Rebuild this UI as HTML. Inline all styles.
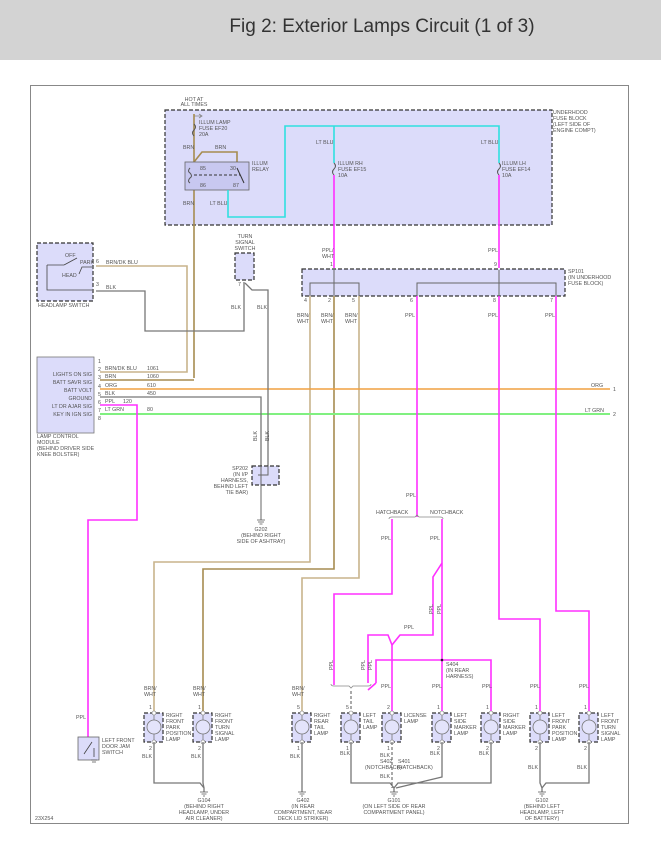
<!DOCTYPE html>
<html><head><meta charset="utf-8"><style>
html,body{margin:0;padding:0;background:#fff;width:661px;height:846px;overflow:hidden}
svg{display:block}
text{font-family:"Liberation Sans",sans-serif;font-size:5.3px;fill:#555}
.t{font-size:19px;fill:#333}
.d{fill:none;stroke:#333;stroke-width:1.2;stroke-dasharray:4,2}
.box{fill:#dcdcfa}
.tan{stroke:#c8b48c;stroke-width:1.6;fill:none}
.brn{stroke:#a68c50;stroke-width:1.6;fill:none}
.mag{stroke:#ff30ff;stroke-width:1.6;fill:none}
.cy{stroke:#30e0e0;stroke-width:1.6;fill:none}
.blk{stroke:#777;stroke-width:1.3;fill:none}
.org{stroke:#f0a040;stroke-width:1.6;fill:none}
.grn{stroke:#80f080;stroke-width:2;fill:none}
.g{stroke:#888;stroke-width:0.8;fill:none}
</style></head><body>
<svg width="661" height="846" viewBox="0 0 661 846">
<rect x="0" y="0" width="661" height="60" fill="#d3d3d3"/>
<text class="t" x="382" y="32" text-anchor="middle">Fig 2: Exterior Lamps Circuit (1 of 3)</text>
<rect x="30.5" y="85.5" width="598" height="738" fill="none" stroke="#888" stroke-width="1"/>

<!-- underhood fuse block -->
<rect x="165" y="110" width="387" height="115" class="box"/>
<rect x="165" y="110" width="387" height="115" class="d"/>
<text x="553" y="114">UNDERHOOD</text><text x="553" y="120">FUSE BLOCK</text><text x="553" y="126">(LEFT SIDE OF</text><text x="553" y="132">ENGINE COMPT)</text>
<text x="194" y="101" text-anchor="middle">HOT AT</text><text x="194" y="106" text-anchor="middle">ALL TIMES</text>
<path d="M194 116 H202 M199 114 L202 116 L199 118" class="g" stroke="#333"/>
<line x1="194" y1="114" x2="194" y2="378" class="brn"/>
<path d="M194 124 q3 3 0 6 q-3 3 0 6" fill="none" stroke="#555" stroke-width="1"/>
<text x="199" y="124">ILLUM LAMP</text><text x="199" y="130">FUSE EF20</text><text x="199" y="136">20A</text>
<text x="183" y="149">BRN</text><text x="215" y="149">BRN</text>
<path d="M194 162 L202 152 H237 V162" class="brn"/>
<rect x="185" y="162" width="64" height="28" fill="#c8c8f0" stroke="#666" stroke-width="0.8"/>
<path d="M190 168 q-3 3 0 5 q3 3 0 5 q-3 3 0 5" fill="none" stroke="#555"/>
<line x1="194" y1="175" x2="240" y2="175" stroke="#333" stroke-dasharray="3,2" stroke-width="1"/>
<line x1="237" y1="168" x2="244" y2="183" stroke="#333" stroke-width="1"/>
<text x="200" y="170">85</text><text x="230" y="170">30</text><text x="200" y="187">86</text><text x="233" y="187">87</text>
<text x="252" y="165">ILLUM</text><text x="252" y="171">RELAY</text>
<text x="183" y="205">BRN</text><text x="210" y="205">LT BLU</text>
<path d="M228 190 V217 H285 V126 H499 V163" class="cy"/>
<line x1="334" y1="126" x2="334" y2="163" class="cy"/>
<text x="316" y="144">LT BLU</text><text x="481" y="144">LT BLU</text>
<path d="M334 163 q3 3 0 6 q-3 3 0 6" fill="none" stroke="#555" stroke-width="1"/>
<path d="M499 163 q3 3 0 6 q-3 3 0 6" fill="none" stroke="#555" stroke-width="1"/>
<text x="338" y="165">ILLUM RH</text><text x="338" y="171">FUSE EF15</text><text x="338" y="177">10A</text>
<text x="502" y="165">ILLUM LH</text><text x="502" y="171">FUSE EF14</text><text x="502" y="177">10A</text>
<line x1="334" y1="175" x2="334" y2="268" class="mag"/>
<line x1="499" y1="175" x2="499" y2="268" class="mag"/>
<text x="322" y="252">PPL/</text><text x="322" y="258">WHT</text><text x="488" y="252">PPL</text>
<text x="330" y="266">1</text><text x="494" y="266">9</text>

<!-- SP101 -->
<rect x="302" y="269" width="263" height="27" class="box"/>
<rect x="302" y="269" width="263" height="27" class="d"/>
<path d="M310 296 V283 H359 V296 M334 270 V296 M417 296 V283 H556 V296 M499 270 V296" fill="none" stroke="#666" stroke-width="1"/>
<text x="568" y="273">SP101</text><text x="568" y="279">(IN UNDERHOOD</text><text x="568" y="285">FUSE BLOCK)</text>
<text x="304" y="302">4</text><text x="328" y="302">2</text><text x="352" y="302">5</text><text x="410" y="302">6</text><text x="493" y="302">8</text><text x="550" y="302">7</text>
<text x="297" y="317">BRN/</text><text x="297" y="323">WHT</text>
<text x="321" y="317">BRN/</text><text x="321" y="323">WHT</text>
<text x="345" y="317">BRN/</text><text x="345" y="323">WHT</text>
<text x="405" y="317">PPL</text><text x="488" y="317">PPL</text><text x="545" y="317">PPL</text>
<path d="M310 296 V562 H154 V713" class="tan"/>
<path d="M334 296 V569 H203 V713" class="brn"/>
<path d="M359 296 V578 H302 V713" class="tan"/>

<!-- horizontal bus -->
<line x1="100" y1="389" x2="610" y2="389" class="org"/>
<line x1="100" y1="414" x2="610" y2="414" class="grn"/>
<text x="591" y="387">ORG</text><text x="613" y="391">1</text>
<text x="585" y="412">LT GRN</text><text x="613" y="416">2</text>

<!-- headlamp switch -->
<rect x="37" y="243" width="56" height="58" class="box"/>
<rect x="37" y="243" width="56" height="58" class="d"/>
<path d="M47 265 V290 H92 M47 265 H64 M64 265 L77 258 M79 274 L82 267 H92" fill="none" stroke="#444" stroke-width="0.8"/>
<text x="65" y="257">OFF</text><text x="80" y="264">PARK</text><text x="62" y="277">HEAD</text>
<text x="96" y="263">6</text><text x="96" y="286">3</text>
<text x="38" y="307">HEADLAMP SWITCH</text>
<path d="M96 266 H187 V372 H100" class="tan"/>
<text x="106" y="264">BRN/DK BLU</text>
<path d="M96 291 H145 V331 H244 V282" class="blk"/>
<text x="106" y="289">BLK</text>
<!-- turn signal switch -->
<rect x="235" y="253" width="19" height="27" class="box"/>
<rect x="235" y="253" width="19" height="27" class="d"/>
<text x="245" y="238" text-anchor="middle">TURN</text><text x="245" y="244" text-anchor="middle">SIGNAL</text><text x="245" y="250" text-anchor="middle">SWITCH</text>
<text x="238" y="286">7</text>
<path d="M245 283 L252 290 H268 V466" class="blk"/>
<text x="231" y="309">BLK</text><text x="257" y="309">BLK</text>

<!-- LCM -->
<rect x="37" y="357" width="57" height="76" fill="#dcdcfa" stroke="#777" stroke-width="0.8"/>
<g text-anchor="end">
<text x="92" y="376">LIGHTS ON SIG</text><text x="92" y="384">BATT SAVR SIG</text><text x="92" y="392">BATT VOLT</text><text x="92" y="400">GROUND</text><text x="92" y="408">LT DR AJAR SIG</text><text x="92" y="416">KEY IN IGN SIG</text></g>
<text x="98" y="363">1</text><text x="98" y="371">2</text><text x="98" y="379">3</text><text x="98" y="388">4</text><text x="98" y="396">5</text><text x="98" y="404">6</text><text x="98" y="412">7</text><text x="98" y="420">8</text>
<text x="105" y="370">BRN/DK BLU</text><text x="147" y="370">1061</text>
<text x="105" y="378">BRN</text><text x="147" y="378">1060</text>
<text x="105" y="387">ORG</text><text x="147" y="387">610</text>
<text x="105" y="395">BLK</text><text x="147" y="395">450</text>
<text x="105" y="403">PPL</text><text x="123" y="403">120</text>
<text x="105" y="411">LT GRN</text><text x="147" y="411">80</text>
<text x="37" y="438">LAMP CONTROL</text><text x="37" y="444">MODULE</text><text x="37" y="450">(BEHIND DRIVER SIDE</text><text x="37" y="456">KNEE BOLSTER)</text>
<path d="M100 380 H194" class="brn"/>
<path d="M100 397 H261 V466" class="blk"/>
<path d="M100 405 H137 V520 H88 V737" class="mag"/>
<text x="253" y="437" transform="rotate(-90 257 437)">BLK</text>
<text x="265" y="437" transform="rotate(-90 269 437)">BLK</text>

<!-- SP202 -->
<rect x="252" y="466" width="27" height="19" class="box"/>
<rect x="252" y="466" width="27" height="19" class="d"/>
<path d="M261 466 V520 M268 466 V475 H258" fill="none" stroke="#666" stroke-width="1"/>
<g text-anchor="end"><text x="248" y="470">SP202</text><text x="248" y="476">(IN I/P</text><text x="248" y="482">HARNESS,</text><text x="248" y="488">BEHIND LEFT</text><text x="248" y="494">TIE BAR)</text></g>
<path d="M257 520 H265 M258 522 H264 M259.5 524 H262.5" stroke="#555" stroke-width="0.8"/>
<g text-anchor="middle"><text x="261" y="531">G202</text><text x="261" y="537">(BEHIND RIGHT</text><text x="261" y="543">SIDE OF ASHTRAY)</text></g>

<!-- door jam switch -->
<rect x="78" y="737" width="21" height="23" fill="#dcdcfa" stroke="#666" stroke-width="0.8"/>
<path d="M84 754 L92 742 M94 748 V757" stroke="#444" stroke-width="0.8"/>
<path d="M91 760 H97 M92 762 H96" stroke="#555" stroke-width="0.8"/>
<text x="76" y="719">PPL</text>
<text x="102" y="742">LEFT FRONT</text><text x="102" y="748">DOOR JAM</text><text x="102" y="754">SWITCH</text>

<!-- rear PPL routing -->
<line x1="417" y1="296" x2="417" y2="517" class="mag"/>
<text x="406" y="497">PPL</text>
<path d="M389 519 q0 -2 3 -2 H415 l2 -2 l2 2 H440 q3 0 3 2" class="g" stroke="#777"/>
<text x="376" y="514">HATCHBACK</text><text x="430" y="514">NOTCHBACK</text>
<path d="M392 519 V594 H334 V685" class="mag"/>
<path d="M442 519 V715" class="mag"/>
<path d="M442 563 L433 577 V635 H400 L392 645" class="mag"/>
<path d="M392 645 V715" class="mag"/>
<path d="M392 645 L388 635 H368 V683" class="mag"/>
<path d="M376 683 L368 690 M376 683 V660 H491 V715" class="mag"/>
<circle cx="442" cy="660" r="1.3" fill="#222"/>
<text x="446" y="666">S404</text><text x="446" y="672">(IN REAR</text><text x="446" y="678">HARNESS)</text>
<text x="381" y="540">PPL</text><text x="430" y="540">PPL</text>
<text x="404" y="629">PPL</text>
<text x="0" y="0" transform="translate(433 614) rotate(-90)">PPL</text>
<text x="0" y="0" transform="translate(441 614) rotate(-90)">PPL</text>
<text x="0" y="0" transform="translate(333 670) rotate(-90)">PPL</text>
<text x="0" y="0" transform="translate(365 670) rotate(-90)">PPL</text>
<text x="0" y="0" transform="translate(372 670) rotate(-90)">PPL</text>
<path d="M331 684 q0 2 3 2 H349 l2 2 l2 -2 H368 q3 0 3 -2" class="g" stroke="#777"/>
<path d="M351 691 V713" stroke="#555" stroke-dasharray="3,2" stroke-width="1"/>
<path d="M499 296 V619 H540 V713" class="mag"/>
<path d="M556 296 V611 H589 V713" class="mag"/>
<g>
<text x="381" y="688">PPL</text><text x="432" y="688">PPL</text><text x="482" y="688">PPL</text><text x="530" y="688">PPL</text><text x="579" y="688">PPL</text>
<text x="144" y="690">BRN/</text><text x="144" y="696">WHT</text>
<text x="193" y="690">BRN/</text><text x="193" y="696">WHT</text>
<text x="292" y="690">BRN/</text><text x="292" y="696">WHT</text>
</g>

<!-- lamps -->
<defs>
<g id="lamp">
<rect x="-10" y="713" width="19" height="29" fill="#dcdcfa"/>
<rect x="-10" y="713" width="19" height="29" class="d"/>
<circle cx="0" cy="727" r="7" fill="#e4e4fb" stroke="#777" stroke-width="0.8"/>
<path d="M0 713 V720 M0 734 V742" stroke="#777" stroke-width="0.8"/>
<circle cx="0" cy="713" r="2" fill="#fff" stroke="#777" stroke-width="0.6"/>
<circle cx="0" cy="742" r="2" fill="#fff" stroke="#777" stroke-width="0.6"/>
</g>
</defs>
<use href="#lamp" x="154"/><use href="#lamp" x="203"/><use href="#lamp" x="302"/><use href="#lamp" x="351"/><use href="#lamp" x="392"/><use href="#lamp" x="442"/><use href="#lamp" x="491"/><use href="#lamp" x="540"/><use href="#lamp" x="589"/>
<g>
<text x="149" y="709">1</text><text x="198" y="709">1</text><text x="297" y="709">5</text><text x="346" y="709">5</text><text x="387" y="709">2</text><text x="437" y="709">1</text><text x="486" y="709">1</text><text x="535" y="709">1</text><text x="584" y="709">1</text>
<text x="149" y="750">2</text><text x="198" y="750">2</text><text x="297" y="750">1</text><text x="346" y="750">1</text><text x="387" y="750">1</text><text x="437" y="750">2</text><text x="486" y="750">2</text><text x="535" y="750">2</text><text x="584" y="750">2</text>
<text x="166" y="717">RIGHT</text><text x="166" y="723">FRONT</text><text x="166" y="729">PARK</text><text x="166" y="735">POSITION</text><text x="166" y="741">LAMP</text>
<text x="215" y="717">RIGHT</text><text x="215" y="723">FRONT</text><text x="215" y="729">TURN</text><text x="215" y="735">SIGNAL</text><text x="215" y="741">LAMP</text>
<text x="314" y="717">RIGHT</text><text x="314" y="723">REAR</text><text x="314" y="729">TAIL</text><text x="314" y="735">LAMP</text>
<text x="363" y="717">LEFT</text><text x="363" y="723">TAIL</text><text x="363" y="729">LAMP</text>
<text x="404" y="717">LICENSE</text><text x="404" y="723">LAMP</text>
<text x="454" y="717">LEFT</text><text x="454" y="723">SIDE</text><text x="454" y="729">MARKER</text><text x="454" y="735">LAMP</text>
<text x="503" y="717">RIGHT</text><text x="503" y="723">SIDE</text><text x="503" y="729">MARKER</text><text x="503" y="735">LAMP</text>
<text x="552" y="717">LEFT</text><text x="552" y="723">FRONT</text><text x="552" y="729">PARK</text><text x="552" y="735">POSITION</text><text x="552" y="741">LAMP</text>
<text x="601" y="717">LEFT</text><text x="601" y="723">FRONT</text><text x="601" y="729">TURN</text><text x="601" y="735">SIGNAL</text><text x="601" y="741">LAMP</text>
<text x="142" y="758">BLK</text><text x="191" y="758">BLK</text><text x="290" y="758">BLK</text><text x="340" y="755">BLK</text><text x="430" y="755">BLK</text><text x="479" y="755">BLK</text><text x="528" y="769">BLK</text><text x="577" y="769">BLK</text>
<text x="380" y="757">BLK</text><text x="380" y="763">S402</text><text x="365" y="769">(NOTCHBACK)</text>
<text x="398" y="763">S401</text><text x="397" y="769">(HATCHBACK)</text><text x="380" y="778">BLK</text>
</g>
<!-- ground wires -->
<path d="M154 742 V783 H200 L204 788 M203 742 V783 L204 788 V792" class="blk"/>
<path d="M302 742 V792" class="blk"/>
<path d="M351 742 V783 H390 L394 788 M442 742 V777 L396 788 M491 742 V783 H398 L394 788 V792" class="blk"/>
<path d="M392 742 V788" stroke="#555" stroke-dasharray="3,2" stroke-width="1"/>
<path d="M540 742 V783 L542 788 M589 742 V783 H546 L542 788 V792" class="blk"/>
<g stroke="#555" stroke-width="0.8">
<path d="M200 792 H208 M201.5 794 H206.5 M203 796 H205"/>
<path d="M298 792 H306 M299.5 794 H304.5 M301 796 H303"/>
<path d="M390 792 H398 M391.5 794 H396.5 M393 796 H395"/>
<path d="M538 792 H546 M539.5 794 H544.5 M541 796 H543"/>
</g>
<g text-anchor="middle">
<text x="204" y="802">G104</text><text x="204" y="808">(BEHIND RIGHT</text><text x="204" y="814">HEADLAMP, UNDER</text><text x="204" y="820">AIR CLEANER)</text>
<text x="303" y="802">G402</text><text x="303" y="808">(IN REAR</text><text x="303" y="814">COMPARTMENT, NEAR</text><text x="303" y="820">DECK LID STRIKER)</text>
<text x="394" y="802">G101</text><text x="394" y="808">(ON LEFT SIDE OF REAR</text><text x="394" y="814">COMPARTMENT PANEL)</text>
<text x="542" y="802">G102</text><text x="542" y="808">(BEHIND LEFT</text><text x="542" y="814">HEADLAMP, LEFT</text><text x="542" y="820">OF BATTERY)</text>
</g>
<text x="35" y="820">23X254</text>
</svg>
</body></html>
